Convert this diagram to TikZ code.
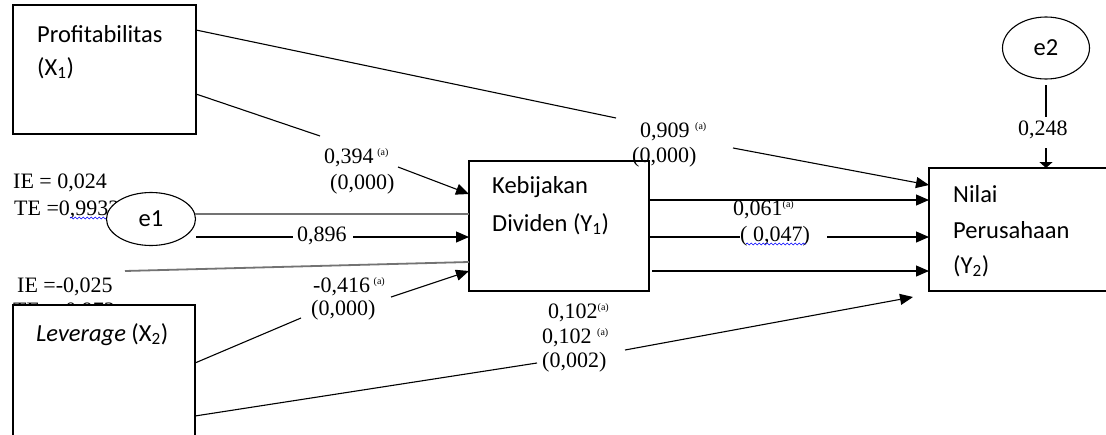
\documentclass[tikz,border=0pt]{standalone}
\usepackage{fontspec}
\setmainfont{Liberation Serif}
\newfontfamily\calib{Carlito}
\usetikzlibrary{arrows.meta,calc,shapes.geometric,decorations.pathmorphing}
\newcommand\supa{\textsuperscript{\fontsize{10}{10}\selectfont (a)}}
\begin{document}
\begin{tikzpicture}[x=1pt,y=-1pt,
  box/.style={draw, line width=1.1pt, fill=white, anchor=north west, inner sep=0, outer sep=0},
  ell/.style={draw, ellipse, line width=1.1pt, fill=white, inner sep=0, outer sep=0, font=\calib\fontsize{24.5}{24.5}\selectfont},
  ctxt/.style={anchor=base west, inner sep=0, font=\calib\fontsize{24.5}{24.5}\selectfont},
  lab/.style={anchor=base west, inner sep=0, font=\fontsize{22}{22}\selectfont},
  conn/.style={line width=1.1pt},
  arr/.style={conn, -{Triangle[length=13pt,width=11pt]}},
  gline/.style={line width=1.8pt, black!55},
  wavy/.style={blue, line width=0.6pt, decorate, decoration={snake, amplitude=1pt, segment length=4pt}}]
\useasboundingbox (0,0) rectangle (1106,434);
\clip (0,0) rectangle (1106,434);
\fill[white] (0,0) rectangle (1106,434);

% left side labels (partly covered)
\node[lab] (l1) at (13,188) {IE = 0,024};
\node[lab] (l2) at (14,215) {TE =0,9932};
\node[lab] (l3) at (17,292) {IE =-0,025};
\node[lab] (l4) at (13,317) {TE =-0,973};
\draw[wavy] (70,218) -- (107,218);

% boxes and ellipses
\node[box, minimum width=183, minimum height=129] (X1) at (13,5) {};
\node[box, minimum width=182, minimum height=140] (X2) at (13,305) {};
\node[box, minimum width=180, minimum height=130] (Y1) at (469,161) {};
\node[box, minimum width=200, minimum height=123] (Y2) at (929,168) {};
\node[ell, minimum width=89, minimum height=53] (e1) at (151,219) {e1};
\node[ell, minimum width=87, minimum height=62] (e2) at (1046,48) {e2};

% box texts
\node[ctxt] (t1) at (37,42) {Profitabilitas};
\node[ctxt] (t2) at (37,75) {(X\textsubscript{1})};
\node[ctxt] (t3) at (36,341) {\textit{Leverage} (X\textsubscript{2})};
\node[ctxt] (t4) at (492,193) {Kebijakan};
\node[ctxt] (t5) at (492,231) {Dividen (Y\textsubscript{1})};
\node[ctxt] (t6) at (953,202) {Nilai};
\node[ctxt] (t7) at (953,238) {Perusahaan};
\node[ctxt] (t8) at (953,273) {(Y\textsubscript{2})};

% coordinates
\coordinate (x1a) at ($(X1.north east)+(0,25)$);
\coordinate (x1b) at ($(X1.north east)+(0,89)$);
\coordinate (x2a) at ($(X2.north east)+(0,58)$);
\coordinate (x2b) at ($(X2.north east)+(0,111)$);
\coordinate (y1i1) at ($(Y1.north west)+(0,33)$);
\coordinate (y1i2) at ($(Y1.north west)+(0,53)$);
\coordinate (y1i3) at ($(Y1.north west)+(0,76)$);
\coordinate (y1i4) at ($(Y1.north west)+(0,101)$);
\coordinate (y1i5) at ($(Y1.north west)+(0,110)$);
\coordinate (y1o1) at ($(Y1.north east)+(0,39)$);
\coordinate (y1o2) at ($(Y1.north east)+(0,76)$);
\coordinate (y1o3) at ($(Y1.north east)+(3,110)$);
\coordinate (y2i1) at ($(Y2.north west)+(0,17)$);
\coordinate (y2i2) at ($(Y2.north west)+(0,32)$);
\coordinate (y2i3) at ($(Y2.north west)+(0,69)$);
\coordinate (y2i4) at ($(Y2.north west)+(0,103)$);
\coordinate (y2i5) at ($(Y2.north west)+(-16,129)$);
\coordinate (e1a) at ($(e1.center)+(44,-5)$);
\coordinate (e1b) at ($(e1.center)+(45,18)$);
\coordinate (gs) at (125,271);
\coordinate (b1) at (616,118);
\coordinate (b2) at (733,148);
\coordinate (b3) at (320,136);
\coordinate (b4) at (398,167);
\coordinate (b5) at (293,237);
\coordinate (b6) at (353,237);
\coordinate (b7) at (301,318);
\coordinate (b8) at (391,297);
\coordinate (b9) at (537,363);
\coordinate (b10) at (625,350);
\coordinate (b11) at (740,237);
\coordinate (b12) at (827,237);
\coordinate (b13) at ($(e2.center)+(0,37)$);
\coordinate (b14) at ($(e2.center)+(0,69)$);
\coordinate (b15) at ($(e2.center)+(0,100)$);

% connectors
\draw[conn] (x1a) -- (b1);
\draw[arr] (b2) -- (y2i1);
\draw[conn] (x1b) -- (b3);
\draw[arr] (b4) -- (y1i1);
\draw[gline] (e1a) -- (y1i2);
\draw[arr] (y1o1) -- (y2i2);
\draw[conn] (e1b) -- (b5);
\draw[arr] (b6) -- (y1i3);
\draw[gline] (gs) -- (y1i4);
\draw[conn] (x2a) -- (b7);
\draw[arr] (b8) -- (y1i5);
\draw[conn] (x2b) -- (b9);
\draw[arr] (b10) -- (y2i5);
\draw[conn] (y1o2) -- (b11);
\draw[arr] (b12) -- (y2i3);
\draw[arr] (y1o3) -- (y2i4);
\draw[conn] (b13) -- (b14);
\draw[conn, -{Triangle[length=6pt,width=13pt]}] (b15) -- (e2.center |- Y2.north);

% path labels
\node[lab] (l5) at (324,163) {0,394\,\supa};
\node[lab] (l6) at (330,189) {(0,000)};
\node[lab] (l7) at (297,241) {0,896};
\node[lab] (l8) at (313,292) {-0,416\,\supa};
\node[lab] (l9) at (311,315) {(0,000)};
\node[lab] (l10) at (640,137) {0,909 \supa};
\node[lab] (l11) at (632,162) {(0,000)};
\node[lab] (l12) at (733,215) {0,061\supa};
\node[lab] (l13) at (740,241) {( 0,047)};
\draw[wavy] (746,244) -- (806,244);
\node[lab] (l14) at (548,318) {0,102\supa};
\node[lab] (l15) at (542,343) {0,102 \supa};
\node[lab] (l16) at (542,367) {(0,002)};
\node[lab] (l17) at (1018,135) {0,248};
\end{tikzpicture}
\end{document}
